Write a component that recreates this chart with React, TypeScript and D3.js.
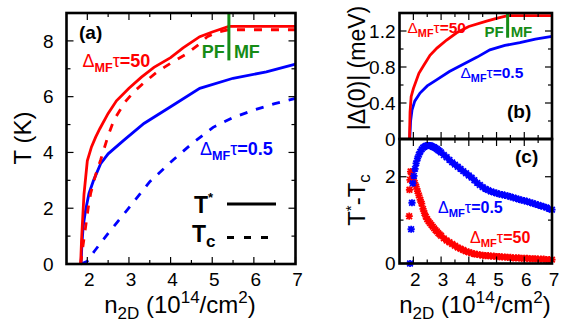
import * as d3 from 'd3'

type Pt = [number, number]

// shared x axis (n_2D, 10^14/cm^2)
const X_DOMAIN: [number, number] = [1.5, 7]
const X_TICKS = [2, 3, 4, 5, 6, 7]
const X_MINOR = [2.5, 3.5, 4.5, 5.5, 6.5]

// panel (a): temperatures in K
const T_TICKS = [0, 2, 4, 6, 8]
const T_MINOR = [1, 3, 5, 7]
const tStarTau50: Pt[] = [[1.84, 0], [1.86, 0.8], [1.88, 1.4], [1.92, 2.5], [1.96, 3.1], [2.0, 3.7], [2.1, 4.2], [2.2, 4.55], [2.3, 4.85], [2.5, 5.4], [2.7, 5.85], [3.0, 6.3], [3.3, 6.7], [3.6, 7.05], [4.0, 7.4], [4.3, 7.75], [4.7, 8.15], [5.0, 8.32], [5.4, 8.52], [7.0, 8.52]]
const tcTau50: Pt[] = [[1.84, 0], [1.9, 0.7], [1.96, 1.34], [2.02, 2.0], [2.08, 2.53], [2.2, 3.2], [2.32, 3.73], [2.5, 4.6], [2.64, 5.16], [2.9, 5.8], [3.12, 6.18], [3.4, 6.55], [3.68, 6.89], [4.0, 7.2], [4.4, 7.55], [4.7, 7.9], [4.88, 8.15], [5.1, 8.3], [5.4, 8.4], [7.0, 8.4]]
const tStarTau05: Pt[] = [[1.85, 0], [1.87, 0.7], [1.9, 1.34], [1.96, 1.94], [2.04, 2.53], [2.15, 3.0], [2.32, 3.6], [2.5, 3.95], [2.88, 4.44], [3.36, 5.04], [4.0, 5.64], [4.7, 6.3], [5.5, 6.66], [6.3, 6.89], [7.0, 7.17]]
const tcTau05: Pt[] = [[1.85, 0], [2.0, 0.1], [2.16, 0.44], [2.5, 1.1], [2.96, 1.94], [3.5, 2.95], [4.06, 3.73], [4.5, 4.3], [5.02, 4.9], [5.5, 5.25], [6.0, 5.52], [6.5, 5.75], [7.0, 5.94]]

// panel (b): gap |Delta(0)| in meV
const GAP_TICKS = [0, 0.4, 0.8, 1.2]
const GAP_MINOR = [0.2, 0.6, 1.0]
const gapTau50: Pt[] = [[1.86, 0], [1.88, 0.3], [1.92, 0.47], [2.0, 0.56], [2.2, 0.73], [2.36, 0.81], [2.6, 0.93], [2.85, 1.01], [3.2, 1.1], [3.56, 1.18], [4.0, 1.25], [4.64, 1.31], [5.0, 1.34], [5.4, 1.37], [7.0, 1.37]]
const gapTau05: Pt[] = [[1.87, 0], [1.9, 0.2], [1.95, 0.32], [2.05, 0.42], [2.24, 0.51], [2.5, 0.59], [2.85, 0.66], [3.3, 0.75], [3.8, 0.83], [4.3, 0.91], [4.76, 0.99], [5.3, 1.04], [5.84, 1.07], [6.4, 1.11], [7.0, 1.14]]

// panel (c): T* - Tc
const DIFF_TICKS = [0, 2]
const DIFF_MINOR = [1]
const diffTau05: Pt[] = [[1.88, 0], [1.92, 0.79], [1.95, 1.4], [1.98, 1.85], [2.02, 2.02], [2.06, 2.18], [2.1, 2.31], [2.15, 2.42], [2.2, 2.51], [2.25, 2.58], [2.3, 2.63], [2.35, 2.67], [2.4, 2.69], [2.45, 2.71], [2.5, 2.72], [2.55, 2.72], [2.6, 2.72], [2.65, 2.71], [2.7, 2.69], [2.75, 2.68], [2.8, 2.66], [2.85, 2.64], [2.9, 2.61], [2.95, 2.59], [3.0, 2.56], [3.1, 2.5], [3.2, 2.45], [3.3, 2.39], [3.4, 2.33], [3.5, 2.28], [3.6, 2.23], [3.7, 2.18], [3.8, 2.13], [3.9, 2.08], [4.0, 2.03], [4.1, 1.98], [4.2, 1.92], [4.3, 1.86], [4.4, 1.81], [4.5, 1.76], [4.6, 1.72], [4.7, 1.69], [4.8, 1.66], [4.9, 1.64], [5.0, 1.62], [5.1, 1.6], [5.2, 1.59], [5.3, 1.57], [5.4, 1.56], [5.5, 1.54], [5.6, 1.52], [5.7, 1.5], [5.8, 1.48], [5.9, 1.46], [6.0, 1.45], [6.1, 1.43], [6.2, 1.41], [6.3, 1.39], [6.4, 1.37], [6.5, 1.35], [6.6, 1.33], [6.7, 1.31], [6.8, 1.29], [6.9, 1.26], [7.0, 1.24]]
const diffTau50: Pt[] = [[1.85, 1.09], [1.86, 1.7], [1.88, 1.93], [1.9, 2.12], [1.95, 2.05], [2.0, 1.95], [2.05, 1.86], [2.1, 1.77], [2.15, 1.67], [2.2, 1.57], [2.25, 1.47], [2.3, 1.38], [2.35, 1.26], [2.4, 1.16], [2.45, 1.08], [2.5, 1.02], [2.55, 0.97], [2.6, 0.93], [2.65, 0.89], [2.7, 0.85], [2.75, 0.81], [2.8, 0.77], [2.85, 0.74], [2.9, 0.7], [2.95, 0.67], [3.0, 0.64], [3.1, 0.58], [3.2, 0.53], [3.3, 0.49], [3.4, 0.45], [3.5, 0.41], [3.6, 0.37], [3.7, 0.34], [3.8, 0.31], [3.9, 0.28], [4.0, 0.26], [4.1, 0.24], [4.2, 0.22], [4.3, 0.21], [4.4, 0.2], [4.5, 0.19], [4.6, 0.18], [4.7, 0.18], [4.8, 0.17], [4.9, 0.17], [5.0, 0.16], [5.1, 0.16], [5.2, 0.15], [5.3, 0.15], [5.4, 0.14], [5.5, 0.14], [5.6, 0.13], [5.7, 0.13], [5.8, 0.13], [5.9, 0.12], [6.0, 0.12], [6.1, 0.12], [6.2, 0.11], [6.3, 0.11], [6.4, 0.11], [6.5, 0.1], [6.6, 0.1], [6.7, 0.1], [6.8, 0.09], [6.9, 0.09], [7.0, 0.09]]

// pseudogap / mean-field crossover density
const PF_MF_N = 5.4

const RED = '#ff0000'
const BLUE = '#0000ff'
const GREEN = '#168c16'
const FONT = 'Liberation Sans, Arial, Helvetica, sans-serif'

const A = { left: 66.5, right: 295.5, top: 13, bottom: 264 }
const B = { left: 399.5, right: 552, top: 13, bottom: 139 }
const C = { left: 399.5, right: 552, top: 139, bottom: 263.5 }

function Frame({ x, y, xMajor, xMinor, yMajor, yMinor, box }) {
  const lines = []
  const addX = (list, len, key) => {
    list.forEach((v, i) => {
      const px = x(v)
      lines.push(<line key={`${key}b${i}`} x1={px} x2={px} y1={box.bottom} y2={box.bottom - len} />)
      lines.push(<line key={`${key}t${i}`} x1={px} x2={px} y1={box.top} y2={box.top + len} />)
    })
  }
  const addY = (list, len, key) => {
    list.forEach((v, i) => {
      const py = y(v)
      lines.push(<line key={`${key}l${i}`} x1={box.left} x2={box.left + len} y1={py} y2={py} />)
      lines.push(<line key={`${key}r${i}`} x1={box.right} x2={box.right - len} y1={py} y2={py} />)
    })
  }
  addX(xMajor, 7, 'xM')
  addX(xMinor, 4, 'xm')
  addY(yMajor, 7, 'yM')
  addY(yMinor, 4, 'ym')
  return (
    <g>
      <g stroke="#000" strokeWidth={1.2}>{lines}</g>
      <rect x={box.left} y={box.top} width={box.right - box.left} height={box.bottom - box.top}
        fill="none" stroke="#000" strokeWidth={2.6} />
    </g>
  )
}

function DeltaLabel({ x, y, fs, color, value }) {
  return (
    <text x={x} y={y} fill={color} fontSize={fs} fontWeight="bold" fontFamily={FONT}>
      <tspan fontWeight="normal">Δ</tspan>
      <tspan fontSize={fs * 0.7} dy={fs * 0.28}>MF</tspan>
      <tspan fontWeight="normal" dy={-fs * 0.28}>τ</tspan>
      <tspan>={value}</tspan>
    </text>
  )
}

function XLabel({ cx }) {
  return (
    <text x={cx} y={313} textAnchor="middle" fontSize={24} fontFamily={FONT} fill="#000">
      n<tspan fontSize={17} dy={6}>2D</tspan>
      <tspan dy={-6}> (10</tspan>
      <tspan fontSize={17} dy={-10}>14</tspan>
      <tspan dy={10}>/cm</tspan>
      <tspan fontSize={17} dy={-10}>2</tspan>
      <tspan dy={10}>)</tspan>
    </text>
  )
}

function Asterisk({ cx, cy, color }) {
  const s = 3.6
  const d = 2.8
  return (
    <path d={`M${cx - s},${cy}h${2 * s}M${cx},${cy - s}v${2 * s}M${cx - d},${cy - d}l${2 * d},${2 * d}M${cx - d},${cy + d}l${2 * d},${-2 * d}`}
      stroke={color} strokeWidth={1.8} fill="none" />
  )
}

export default function App() {
  const xa = d3.scaleLinear().domain(X_DOMAIN).range([A.left, A.right])
  const ya = d3.scaleLinear().domain([0, 9]).range([A.bottom, A.top])
  const xb = d3.scaleLinear().domain(X_DOMAIN).range([B.left, B.right])
  const yb = d3.scaleLinear().domain([0, 1.4]).range([B.bottom, B.top])
  const yc = d3.scaleLinear().domain([0, 2.87]).range([C.bottom, C.top])

  const lineA = d3.line<Pt>().x(d => xa(d[0])).y(d => ya(d[1]))
  const lineB = d3.line<Pt>().x(d => xb(d[0])).y(d => yb(d[1]))

  const dash = '8,9'

  return (
    <svg width={576} height={333} style={{ position: 'absolute', left: 0, top: 0, background: '#fff' }}
      fontFamily={FONT}>
      {/* ---------- panel (a) ---------- */}
      <g fill="none" strokeWidth={2.8}>
        <path d={lineA(tcTau05)} stroke={BLUE} strokeDasharray={dash} />
        <path d={lineA(tStarTau05)} stroke={BLUE} />
        <path d={lineA(tcTau50)} stroke={RED} strokeDasharray={dash} />
        <path d={lineA(tStarTau50)} stroke={RED} />
      </g>
      <line x1={xa(PF_MF_N)} x2={xa(PF_MF_N)} y1={A.top} y2={ya(7.3)} stroke={GREEN} strokeWidth={3} />
      <text x={xa(PF_MF_N) - 4} y={58} textAnchor="end" fill={GREEN} fontSize={18} fontWeight="bold">PF</text>
      <text x={xa(PF_MF_N) + 5} y={58} fill={GREEN} fontSize={18} fontWeight="bold">MF</text>
      <Frame x={xa} y={ya} xMajor={X_TICKS} xMinor={X_MINOR} yMajor={T_TICKS} yMinor={T_MINOR} box={A} />
      {X_TICKS.map(t => (
        <text key={`ax${t}`} x={xa(t) + 2} y={286} textAnchor="middle" fontSize={19}>{t}</text>
      ))}
      {T_TICKS.map(t => (
        <text key={`ay${t}`} x={A.left - 13} y={ya(t)} dy="0.35em" textAnchor="end" fontSize={19}>{t}</text>
      ))}
      <text x={79} y={39} fontSize={19} fontWeight="bold">(a)</text>
      <DeltaLabel x={82.5} y={66.5} fs={18} color={RED} value="50" />
      <DeltaLabel x={200} y={155} fs={18} color={BLUE} value="0.5" />

      {/* legend */}
      <text x={194} y={213} fontSize={23} fontWeight="bold">T<tspan fontSize={13} dy={-11}>*</tspan></text>
      <line x1={227} x2={276} y1={204} y2={204} stroke="#000" strokeWidth={2.8} />
      <text x={192} y={241.5} fontSize={23} fontWeight="bold">T<tspan fontSize={17} dy={5}>c</tspan></text>
      <line x1={227} x2={276} y1={237.5} y2={237.5} stroke="#000" strokeWidth={2.8} strokeDasharray="7,10" />

      <text transform="translate(31,138) rotate(-90)" textAnchor="middle" fontSize={24}>T (K)</text>
      <XLabel cx={180} />

      {/* ---------- panel (b) ---------- */}
      <g fill="none" strokeWidth={2.8}>
        <path d={lineB(gapTau05)} stroke={BLUE} />
        <path d={lineB(gapTau50)} stroke={RED} />
      </g>
      <line x1={xb(PF_MF_N)} x2={xb(PF_MF_N)} y1={B.top} y2={yb(1.125)} stroke={GREEN} strokeWidth={3} />
      <text x={xb(PF_MF_N) - 4} y={37} textAnchor="end" fill={GREEN} fontSize={15} fontWeight="bold">PF</text>
      <text x={xb(PF_MF_N) + 3} y={37} fill={GREEN} fontSize={15} fontWeight="bold">MF</text>
      <Frame x={xb} y={yb} xMajor={X_TICKS} xMinor={X_MINOR} yMajor={GAP_TICKS} yMinor={GAP_MINOR} box={B} />
      {GAP_TICKS.map(t => (
        <text key={`by${t}`} x={B.left - 4} y={yb(t)} dy="0.35em" textAnchor="end" fontSize={19}>{t === 0 ? '0' : t.toFixed(1)}</text>
      ))}
      <text x={507} y={118} fontSize={19} fontWeight="bold">(b)</text>
      <DeltaLabel x={407.5} y={33} fs={15.5} color={RED} value="50" />
      <DeltaLabel x={460.5} y={78} fs={15.5} color={BLUE} value="0.5" />
      <text transform="translate(365,68) rotate(-90)" textAnchor="middle" fontSize={23}>|Δ(0)| (meV)</text>

      {/* ---------- panel (c) ---------- */}
      {diffTau50.map((d, i) => <Asterisk key={`r${i}`} cx={xb(d[0])} cy={yc(d[1])} color={RED} />)}
      {diffTau05.map((d, i) => <Asterisk key={`b${i}`} cx={xb(d[0])} cy={yc(d[1])} color={BLUE} />)}
      <Frame x={xb} y={yc} xMajor={X_TICKS} xMinor={X_MINOR} yMajor={DIFF_TICKS} yMinor={DIFF_MINOR} box={C} />
      {X_TICKS.map(t => (
        <text key={`cx${t}`} x={xb(t) + 2} y={286} textAnchor="middle" fontSize={19}>{t}</text>
      ))}
      {DIFF_TICKS.map(t => (
        <text key={`cy${t}`} x={C.left - 4} y={yc(t)} dy="0.35em" textAnchor="end" fontSize={19}>{t}</text>
      ))}
      <text x={515} y={163} fontSize={19} fontWeight="bold">(c)</text>
      <DeltaLabel x={438} y={213} fs={16} color={BLUE} value="0.5" />
      <DeltaLabel x={470} y={243} fs={16} color={RED} value="50" />
      <text transform="translate(365,200) rotate(-90)" textAnchor="middle" fontSize={24}>
        T<tspan fontSize={15} dy={-9}>*</tspan><tspan dy={9}>-T</tspan><tspan fontSize={17} dy={5}>c</tspan>
      </text>
      <XLabel cx={475} />
    </svg>
  )
}
